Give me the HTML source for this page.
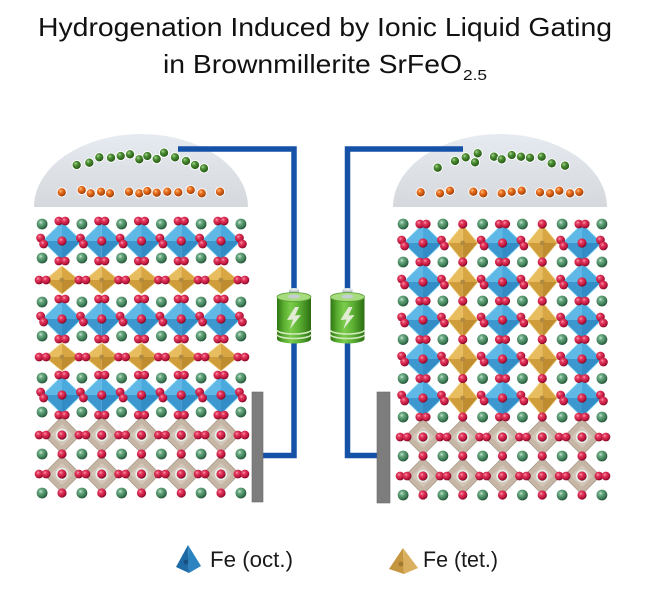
<!DOCTYPE html>
<html><head><meta charset="utf-8"><style>html,body{margin:0;padding:0;background:#fff}svg{display:block}</style></head>
<body>
<svg width="650" height="590" viewBox="0 0 650 590" xmlns="http://www.w3.org/2000/svg">
<defs>
<radialGradient id="gR" cx="0.38" cy="0.35" r="0.65"><stop offset="0" stop-color="#ff9db2"/><stop offset="0.3" stop-color="#e33a5e"/><stop offset="0.75" stop-color="#c0173f"/><stop offset="1" stop-color="#7e0a27"/></radialGradient>
<radialGradient id="gG" cx="0.38" cy="0.35" r="0.65"><stop offset="0" stop-color="#c6e6d0"/><stop offset="0.3" stop-color="#6aa982"/><stop offset="0.75" stop-color="#3f7d57"/><stop offset="1" stop-color="#26563a"/></radialGradient>
<radialGradient id="gO" cx="0.38" cy="0.35" r="0.65"><stop offset="0" stop-color="#ffc080"/><stop offset="0.35" stop-color="#e87020"/><stop offset="0.8" stop-color="#b84c0a"/><stop offset="1" stop-color="#7a2e04"/></radialGradient>
<radialGradient id="gD" cx="0.38" cy="0.35" r="0.65"><stop offset="0" stop-color="#a8d890"/><stop offset="0.35" stop-color="#4c8c34"/><stop offset="0.8" stop-color="#2f6a1c"/><stop offset="1" stop-color="#1c4410"/></radialGradient>
<linearGradient id="gDome" x1="0" y1="0" x2="0" y2="1"><stop offset="0" stop-color="#e6ebf1"/><stop offset="1" stop-color="#d5d8dc"/></linearGradient>
<linearGradient id="gBat" x1="0" y1="0" x2="1" y2="0"><stop offset="0" stop-color="#2f7514"/><stop offset="0.2" stop-color="#5aae30"/><stop offset="0.4" stop-color="#7ccc4c"/><stop offset="0.65" stop-color="#5db234"/><stop offset="1" stop-color="#2c6e12"/></linearGradient>

<g id="rs"><circle r="4.6" fill="url(#gR)"/></g>
<g id="rp"><circle cx="-3.2" r="4.4" fill="url(#gR)"/><circle cx="3.2" r="4.4" fill="url(#gR)"/></g>
<g id="rv"><circle cx="-1.5" cy="-3" r="4.4" fill="url(#gR)"/><circle cx="1.5" cy="3" r="4.4" fill="url(#gR)"/></g>
<g id="rh"><circle cx="-3" r="4.4" fill="url(#gR)"/><circle cx="4" r="4.4" fill="url(#gR)"/></g>
<g id="rc"><circle r="6.2" fill="#e4f2e8"/><circle r="4.6" fill="url(#gR)"/></g>
<g id="g"><circle r="5.4" fill="url(#gG)"/></g>
<g id="tan"><circle r="2.4" fill="#b08a40"/></g>
<g id="dg"><circle r="4.6" fill="url(#gD)" stroke="#fff" stroke-width="0.9"/></g>
<g id="og"><circle r="4.6" fill="url(#gO)" stroke="#fff" stroke-width="0.9"/></g>

<g id="oct">
<polygon points="0,-19 -19.5,0 0,0" fill="#5fb8e6"/>
<polygon points="0,-19 19.5,0 0,0" fill="#4aaade"/>
<polygon points="-19.5,0 0,19 0,0" fill="#3d98cf"/>
<polygon points="19.5,0 0,19 0,0" fill="#338cc6"/>
<polygon points="0,-19 19.5,0 0,19 -19.5,0" fill="none" stroke="#7fd2f4" stroke-width="0.8"/>
</g>
<g id="tet">
<polygon points="0,-14 -17,0 0,0" fill="#e8bd60"/>
<polygon points="0,-14 17,0 0,0" fill="#d8a744"/>
<polygon points="-17,0 0,14 0,0" fill="#cf9d3c"/>
<polygon points="17,0 0,14 0,0" fill="#c08c30"/>
<polygon points="0,-14 17,0 0,14 -17,0" fill="none" stroke="#f0d080" stroke-width="0.7"/>
</g>
<g id="tetR">
<polygon points="0,-18 -15,0 0,0" fill="#e8bd60"/>
<polygon points="0,-18 15,0 0,0" fill="#d8a744"/>
<polygon points="-15,0 0,18 0,0" fill="#cf9d3c"/>
<polygon points="15,0 0,18 0,0" fill="#c08c30"/>
<polygon points="0,-18 15,0 0,18 -15,0" fill="none" stroke="#f0d080" stroke-width="0.7"/>
</g>
<g id="brn">
<rect x="-13" y="-13" width="26" height="26" rx="4" transform="rotate(45)" fill="#c6b6a6" stroke="#ab9c8c" stroke-width="0.8"/>
<rect x="-8" y="-8" width="16" height="16" rx="2" transform="rotate(45)" fill="#d3c6b9"/>
</g>

<!-- Left rows -->
<g id="LoctRow">
<use href="#oct" x="62"/><use href="#oct" x="101.75"/><use href="#oct" x="141.5"/><use href="#oct" x="181.25"/><use href="#oct" x="221"/>
<use href="#rs" x="62"/><use href="#rs" x="101.75"/><use href="#rs" x="141.5"/><use href="#rs" x="181.25"/><use href="#rs" x="221"/>
<use href="#rv" x="42.1"/><use href="#rv" x="81.9"/><use href="#rv" x="121.6"/><use href="#rv" x="161.4"/><use href="#rv" x="201.1"/><use href="#rv" x="240.9"/>
</g>
<g id="LtetRow">
<use href="#tet" x="62"/><use href="#tet" x="101.75"/><use href="#tet" x="141.5"/><use href="#tet" x="181.25"/><use href="#tet" x="221"/>
<use href="#tan" x="62"/><use href="#tan" x="101.75"/><use href="#tan" x="141.5"/><use href="#tan" x="181.25"/><use href="#tan" x="221"/>
<use href="#rh" x="42.1"/><use href="#rh" x="81.9"/><use href="#rh" x="121.6"/><use href="#rh" x="161.4"/><use href="#rh" x="201.1"/><use href="#rh" x="240.9"/>
</g>
<g id="LbrnRow">
<use href="#brn" x="62"/><use href="#brn" x="101.75"/><use href="#brn" x="141.5"/><use href="#brn" x="181.25"/><use href="#brn" x="221"/>
<use href="#rc" x="62"/><use href="#rc" x="101.75"/><use href="#rc" x="141.5"/><use href="#rc" x="181.25"/><use href="#rc" x="221"/>
<use href="#rh" x="42.1"/><use href="#rh" x="81.9"/><use href="#rh" x="121.6"/><use href="#rh" x="161.4"/><use href="#rh" x="201.1"/><use href="#rh" x="240.9"/>
</g>
<g id="LgreenRow">
<use href="#g" x="42.1"/><use href="#g" x="81.9"/><use href="#g" x="121.6"/><use href="#g" x="161.4"/><use href="#g" x="201.1"/><use href="#g" x="240.9"/>
</g>
<g id="LapexRow">
<use href="#rp" x="62"/><use href="#rp" x="101.75"/><use href="#rp" x="141.5"/><use href="#rp" x="181.25"/><use href="#rp" x="221"/>
</g>
<g id="LaltRow">
<use href="#g" x="42.1"/><use href="#g" x="81.9"/><use href="#g" x="121.6"/><use href="#g" x="161.4"/><use href="#g" x="201.1"/><use href="#g" x="240.9"/>
<use href="#rs" x="62"/><use href="#rs" x="101.75"/><use href="#rs" x="141.5"/><use href="#rs" x="181.25"/><use href="#rs" x="221"/>
</g>

<!-- Right rows -->
<g id="RpolyRow">
<use href="#oct" x="423"/><use href="#tetR" x="462.75"/><use href="#oct" x="502.5"/><use href="#tetR" x="542.25"/><use href="#oct" x="582"/>
<use href="#rs" x="423"/><use href="#tan" x="462.75"/><use href="#rs" x="502.5"/><use href="#tan" x="542.25"/><use href="#rs" x="582"/>
<use href="#rv" x="403.1"/><use href="#rv" x="442.9"/><use href="#rv" x="482.6"/><use href="#rv" x="522.4"/><use href="#rv" x="562.1"/><use href="#rv" x="601.9"/>
</g>
<g id="RgreenRow">
<use href="#g" x="403.1"/><use href="#g" x="442.9"/><use href="#g" x="482.6"/><use href="#g" x="522.4"/><use href="#g" x="562.1"/><use href="#g" x="601.9"/>
<use href="#rp" x="423"/><use href="#rs" x="462.75"/><use href="#rp" x="502.5"/><use href="#rs" x="542.25"/><use href="#rp" x="582"/>
</g>
<g id="RbrnRow">
<use href="#brn" x="423"/><use href="#brn" x="462.75"/><use href="#brn" x="502.5"/><use href="#brn" x="542.25"/><use href="#brn" x="582"/>
<use href="#rc" x="423"/><use href="#rc" x="462.75"/><use href="#rc" x="502.5"/><use href="#rc" x="542.25"/><use href="#rc" x="582"/>
<use href="#rh" x="403.1"/><use href="#rh" x="442.9"/><use href="#rh" x="482.6"/><use href="#rh" x="522.4"/><use href="#rh" x="562.1"/><use href="#rh" x="601.9"/>
</g>
<g id="RaltRow">
<use href="#g" x="403.1"/><use href="#g" x="442.9"/><use href="#g" x="482.6"/><use href="#g" x="522.4"/><use href="#g" x="562.1"/><use href="#g" x="601.9"/>
<use href="#rs" x="423"/><use href="#rs" x="462.75"/><use href="#rs" x="502.5"/><use href="#rs" x="542.25"/><use href="#rs" x="582"/>
</g>

<g id="bat">
<rect x="-5" y="289" width="10" height="8" fill="#b8c4c8"/>
<ellipse cx="0" cy="289.5" rx="5" ry="1.5" fill="#e2e8ea"/>
<path d="M-17,297 V339 A17,4.5 0 0 0 17,339 V297 Z" fill="url(#gBat)"/>
<ellipse cx="0" cy="297" rx="17" ry="4.5" fill="#a6dc7e" stroke="#5c9e34" stroke-width="0.8"/>
<ellipse cx="0" cy="296.5" rx="6" ry="2" fill="#c6d0d2"/>
<polygon points="1,307 -7,320 -1,319.5 -4,329 7,315 1,315.5 5,307" fill="#e2ecd4"/>
<path d="M-17,330 A17,4 0 0 0 17,330" fill="none" stroke="#d0e8bc" stroke-width="1.6"/>
<path d="M-17,334.5 A17,4 0 0 0 17,334.5" fill="none" stroke="#d0e8bc" stroke-width="1.6"/>
</g>
</defs>

<rect width="650" height="590" fill="#fff"/>

<!-- Title -->
<text x="38" y="36" font-family="'Liberation Sans', sans-serif" font-size="26" fill="#111" textLength="574" lengthAdjust="spacingAndGlyphs">Hydrogenation Induced by Ionic Liquid Gating</text>
<text x="163" y="73" font-family="'Liberation Sans', sans-serif" font-size="26" fill="#111" textLength="299" lengthAdjust="spacingAndGlyphs">in Brownmillerite SrFeO</text>
<text x="463" y="80" font-family="'Liberation Sans', sans-serif" font-size="15" fill="#111" textLength="24" lengthAdjust="spacingAndGlyphs">2.5</text>

<!-- Domes -->
<path d="M34,207 A107,73 0 0 1 248,207 Z" fill="url(#gDome)"/>
<path d="M393,207 A107,73 0 0 1 607,207 Z" fill="url(#gDome)"/>

<!-- Wires -->
<path d="M178,149 H294 V455.5 H263" fill="none" stroke="#1551a6" stroke-width="5.5"/>
<path d="M463,149 H347.5 V455.5 H377" fill="none" stroke="#1551a6" stroke-width="5.5"/>

<!-- Left dome ions -->
<use href="#dg" x="76.7" y="165"/><use href="#dg" x="89.3" y="162.7"/><use href="#dg" x="99.3" y="157.3"/><use href="#dg" x="111" y="157.7"/><use href="#dg" x="120.7" y="156"/><use href="#dg" x="130" y="154.3"/><use href="#dg" x="139.3" y="159.3"/><use href="#dg" x="147.3" y="156"/><use href="#dg" x="156.7" y="159"/><use href="#dg" x="164" y="152.7"/><use href="#dg" x="175" y="157.3"/><use href="#dg" x="186" y="161"/><use href="#dg" x="195" y="165"/><use href="#dg" x="204" y="168.3"/>
<use href="#og" x="61.7" y="192.3"/><use href="#og" x="81.7" y="190"/><use href="#og" x="90.7" y="193.3"/><use href="#og" x="101" y="191.7"/><use href="#og" x="110" y="193.3"/><use href="#og" x="129" y="191.7"/><use href="#og" x="139.3" y="193.3"/><use href="#og" x="147.3" y="191"/><use href="#og" x="156.7" y="192.7"/><use href="#og" x="167.3" y="191.7"/><use href="#og" x="178.3" y="192.3"/><use href="#og" x="190.7" y="190"/><use href="#og" x="201.7" y="193.3"/><use href="#og" x="220" y="191.7"/>

<!-- Right dome ions -->
<use href="#dg" x="437.7" y="167.7"/><use href="#dg" x="455" y="161"/><use href="#dg" x="465.7" y="157.3"/><use href="#dg" x="475" y="162.3"/><use href="#dg" x="477.7" y="153.3"/><use href="#dg" x="494" y="156.7"/><use href="#dg" x="501.7" y="159.3"/><use href="#dg" x="511.7" y="155"/><use href="#dg" x="521" y="156.7"/><use href="#dg" x="530" y="157.7"/><use href="#dg" x="541.7" y="156.7"/><use href="#dg" x="551.7" y="163.3"/><use href="#dg" x="565" y="165.7"/>
<use href="#og" x="420.7" y="192.3"/><use href="#og" x="440" y="193.3"/><use href="#og" x="450" y="190.7"/><use href="#og" x="473.3" y="191.7"/><use href="#og" x="483.3" y="193.3"/><use href="#og" x="501.7" y="193.3"/><use href="#og" x="511.7" y="191.7"/><use href="#og" x="521.7" y="190.7"/><use href="#og" x="540" y="192.3"/><use href="#og" x="550" y="193.3"/><use href="#og" x="559.3" y="190.7"/><use href="#og" x="570" y="193.3"/><use href="#og" x="579.3" y="192"/>

<!-- Left lattice -->
<use href="#LoctRow" y="241"/><use href="#LoctRow" y="319"/><use href="#LoctRow" y="395"/>
<use href="#LtetRow" y="280"/><use href="#LtetRow" y="357"/>
<use href="#LbrnRow" y="435"/><use href="#LbrnRow" y="474"/>
<use href="#LgreenRow" y="224"/><use href="#LgreenRow" y="258"/><use href="#LgreenRow" y="302"/><use href="#LgreenRow" y="336"/><use href="#LgreenRow" y="378"/><use href="#LgreenRow" y="412"/>
<use href="#LapexRow" y="221"/><use href="#LapexRow" y="261"/><use href="#LapexRow" y="299"/><use href="#LapexRow" y="339"/><use href="#LapexRow" y="375"/><use href="#LapexRow" y="415"/>
<use href="#LaltRow" y="454"/><use href="#LaltRow" y="493"/>

<!-- Right lattice -->
<use href="#RpolyRow" y="243"/><use href="#RpolyRow" y="282"/><use href="#RpolyRow" y="320"/><use href="#RpolyRow" y="359"/><use href="#RpolyRow" y="398"/>
<use href="#RbrnRow" y="437"/><use href="#RbrnRow" y="476"/>
<use href="#RgreenRow" y="224"/><use href="#RgreenRow" y="262"/><use href="#RgreenRow" y="301"/><use href="#RgreenRow" y="339.5"/><use href="#RgreenRow" y="378.5"/><use href="#RgreenRow" y="417"/>
<use href="#RaltRow" y="456"/><use href="#RaltRow" y="495"/>

<!-- Electrodes -->
<rect x="252" y="392" width="11" height="110" fill="#7d7d7d" stroke="#6a6a6a" stroke-width="0.6"/>
<rect x="377" y="392" width="13" height="111" fill="#7d7d7d" stroke="#6a6a6a" stroke-width="0.6"/>

<!-- Batteries -->
<use href="#bat" x="294"/>
<use href="#bat" x="347.5"/>

<!-- Legend -->
<polygon points="188,545 176,567 189,573" fill="#1e6aa5"/>
<polygon points="188,545 189,573 201,566" fill="#2b84bf"/>
<circle cx="186" cy="562" r="2.4" fill="#174f80"/>
<text x="210" y="567" font-family="'Liberation Sans', sans-serif" font-size="22" fill="#1a1a1a" textLength="83" lengthAdjust="spacingAndGlyphs">Fe (oct.)</text>

<polygon points="403,548 389,569 404,574" fill="#c49640"/>
<polygon points="403,548 404,574 418,568" fill="#dab060"/>
<circle cx="401" cy="564" r="2.4" fill="#a07830"/>
<text x="423" y="567" font-family="'Liberation Sans', sans-serif" font-size="22" fill="#1a1a1a" textLength="75" lengthAdjust="spacingAndGlyphs">Fe (tet.)</text>
</svg>
</body></html>
